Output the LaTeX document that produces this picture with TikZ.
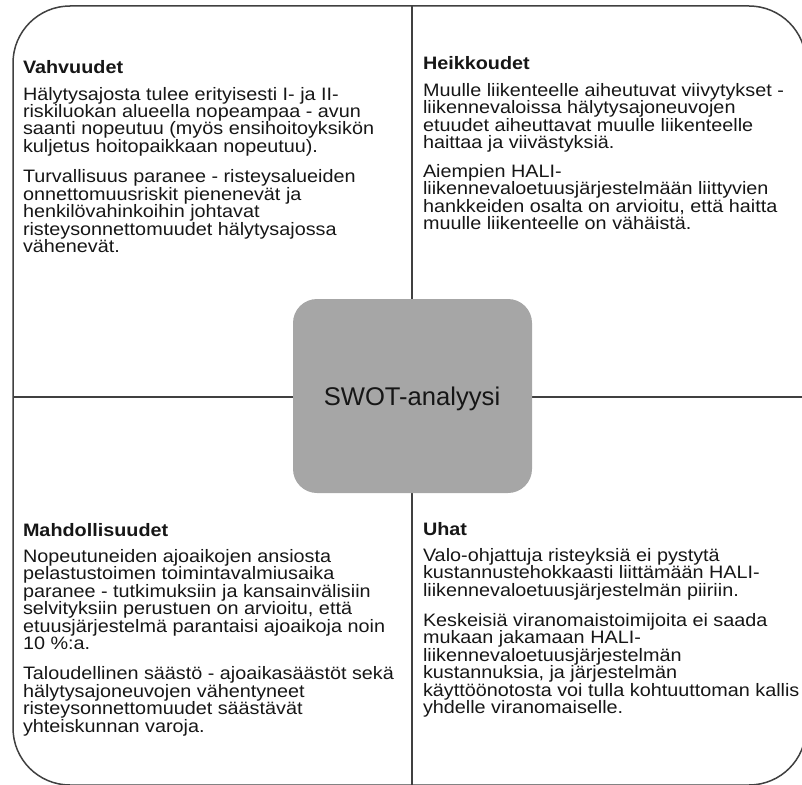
\documentclass[tikz,border=0pt]{standalone}
\usepackage{fontspec}
\setmainfont{Liberation Sans}
\newfontfamily\swbody{Liberation Sans}[FakeStretch=1.1]
\newfontfamily\swcentfont{Liberation Sans}
\newcommand{\swsetup}{\swbody\fontsize{18}{17.5}\selectfont\baselineskip=17.5pt\lineskiplimit=-100pt\relax}
\newcommand{\swl}[1]{\hbox{#1}}
\newcommand{\swhd}[1]{\hbox{\bfseries #1}\vskip 8.5pt}
\newcommand{\swgap}[1]{\vskip #1\relax}
\definecolor{swline}{HTML}{404040}
\definecolor{swbox}{HTML}{A6A6A6}
\definecolor{swtext}{HTML}{161616}
\begin{document}
\begin{tikzpicture}[x=1pt,y=-1pt,
  frame/.style={draw=swline,line width=1.5pt},
  hub/.style={fill=swbox,draw=none,rounded corners=24pt,inner sep=0pt},
  quadtext/.style={anchor=base west,inner sep=0pt,outer sep=0pt,text=swtext},
  hubtext/.style={anchor=base,inner sep=0pt,text=swtext,font=\swcentfont\fontsize{25.6}{30}\selectfont}]
\useasboundingbox (0,0) rectangle (802,784);
\clip (0,0) rectangle (802,784);
\draw[frame,rounded corners=57pt] (13,6) rectangle (806,785);
\coordinate (topmid) at (412,6);
\coordinate (botmid) at (412,785);
\coordinate (leftmid) at (13,397);
\coordinate (rightmid) at (806,397);
\draw[frame] (topmid) -- (botmid);
\draw[frame] (leftmid) -- (rightmid);
\node[hub,minimum width=239pt,minimum height=194pt] (hub) at (412.5,396) {};
\node[hubtext] (hublabel) at (412,405) {SWOT-analyysi};
\node[quadtext] (strengths) at (23,74) {\vtop{\swsetup
  \swhd{Vahvuudet}
  \swl{Hälytysajosta tulee erityisesti I- ja II-}
  \swl{riskiluokan alueella nopeampaa - avun}
  \swl{saanti nopeutuu (myös ensihoitoyksikön}
  \swl{kuljetus hoitopaikkaan nopeutuu).}
  \swgap{12.5pt}
  \swl{Turvallisuus paranee - risteysalueiden}
  \swl{onnettomuusriskit pienenevät ja}
  \swl{henkilövahinkoihin johtavat}
  \swl{risteysonnettomuudet hälytysajossa}
  \swl{vähenevät.}}};
\node[quadtext] (weaknesses) at (423,70) {\vtop{\swsetup
  \swhd{Heikkoudet}
  \swl{Muulle liikenteelle aiheutuvat viivytykset -}
  \swl{liikennevaloissa hälytysajoneuvojen}
  \swl{etuudet aiheuttavat muulle liikenteelle}
  \swl{haittaa ja viivästyksiä.}
  \swgap{11pt}
  \swl{Aiempien HALI-}
  \swl{liikennevaloetuusjärjestelmään liittyvien}
  \swl{hankkeiden osalta on arvioitu, että haitta}
  \swl{muulle liikenteelle on vähäistä.}}};
\node[quadtext] (opportunities) at (23,536) {\vtop{\swsetup
  \swhd{Mahdollisuudet}
  \swl{Nopeutuneiden ajoaikojen ansiosta}
  \swl{pelastustoimen toimintavalmiusaika}
  \swl{paranee - tutkimuksiin ja kansainvälisiin}
  \swl{selvityksiin perustuen on arvioitu, että}
  \swl{etuusjärjestelmä parantaisi ajoaikoja noin}
  \swl{10 \%:a.}
  \swgap{12.5pt}
  \swl{Taloudellinen säästö - ajoaikasäästöt sekä}
  \swl{hälytysajoneuvojen vähentyneet}
  \swl{risteysonnettomuudet säästävät}
  \swl{yhteiskunnan varoja.}}};
\node[quadtext] (threats) at (423,535) {\vtop{\swsetup
  \swhd{Uhat}
  \swl{Valo-ohjattuja risteyksiä ei pystytä}
  \swl{kustannustehokkaasti liittämään HALI-}
  \swl{liikennevaloetuusjärjestelmän piiriin.}
  \swgap{12.5pt}
  \swl{Keskeisiä viranomaistoimijoita ei saada}
  \swl{mukaan jakamaan HALI-}
  \swl{liikennevaloetuusjärjestelmän}
  \swl{kustannuksia, ja järjestelmän}
  \swl{käyttöönotosta voi tulla kohtuuttoman kallis}
  \swl{yhdelle viranomaiselle.}}};
\end{tikzpicture}
\end{document}
